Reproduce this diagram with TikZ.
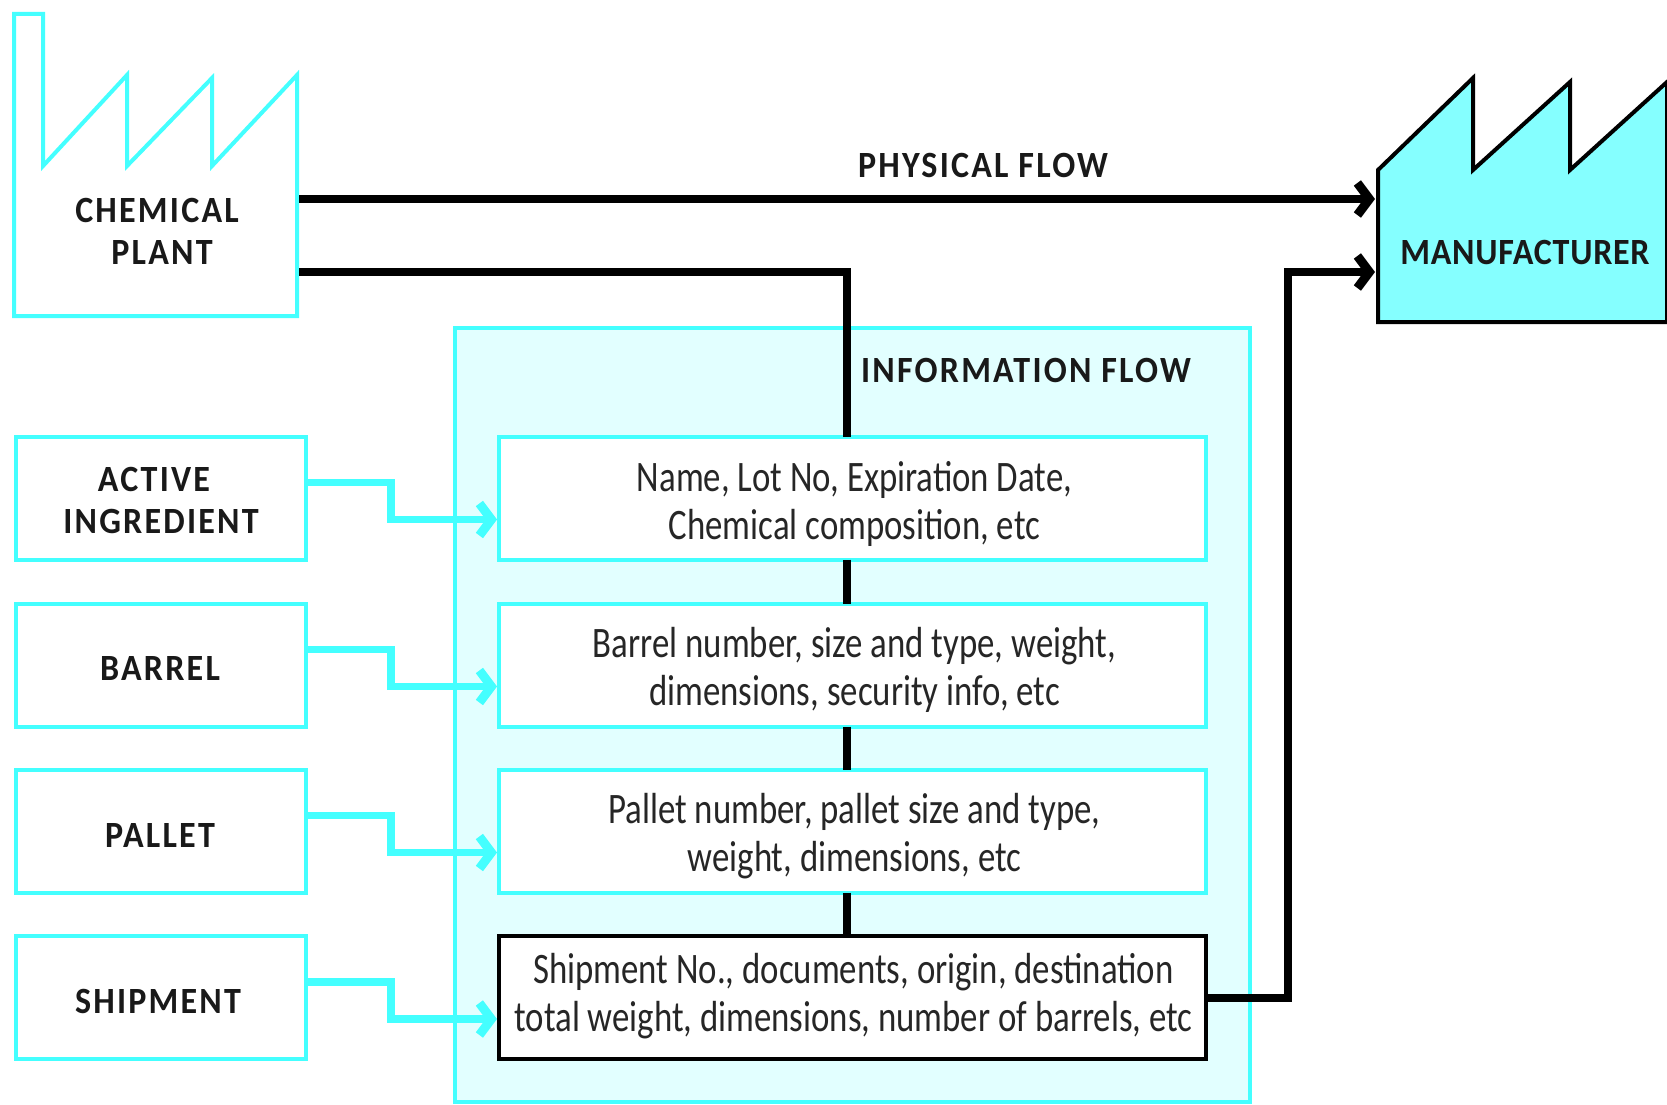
\documentclass[tikz,border=0pt]{standalone}
\usepackage{fontspec}
\usetikzlibrary{arrows.meta}
\setmainfont{Carlito}
\newfontfamily\lblfont[FakeStretch=0.92,LetterSpace=6]{Carlito Bold}
\newfontfamily\mfrfont[FakeStretch=0.92,LetterSpace=2]{Carlito Bold}
\newfontfamily\descfont[FakeStretch=0.80]{Carlito}
\definecolor{cy}{HTML}{44FFFF}
\definecolor{mfg}{HTML}{85FFFF}
\definecolor{pale}{HTML}{E2FFFF}
% \movedown{x}{dy}{content}: content shifted right by x/2 and down by dy inside its node
\newcommand\movedown[3]{\hspace*{#1pt}\raisebox{0pt}[\dimexpr\height+2\dimexpr #2pt\relax\relax][\depth]{#3}}
\newcommand\twolines[4]{\movedown{#1}{#2}{\begin{tabular}{@{}c@{}}#3\\#4\end{tabular}}}
\tikzset{
  x=1pt,y=-1pt,
  lbl/.style={font=\lblfont\fontsize{37}{42}\selectfont,text=black!90,align=center,inner sep=0pt,outer sep=0pt},
  desc/.style={font=\descfont\fontsize{43.5}{48}\selectfont,text=black!85,align=center,inner sep=0pt,outer sep=0pt},
  srcbox/.style={lbl,draw=cy,line width=4pt,fill=white,minimum width=290pt,minimum height=123pt},
  infobox/.style={desc,draw=cy,line width=4pt,fill=white,minimum width=707pt,minimum height=123pt},
  lastbox/.style={infobox,draw=black},
  tip/.tip={Straight Barb[length=12pt,width=32pt,line width=9pt]},
  blk/.style={draw=black,line width=8pt},
  cyl/.style={draw=cy,line width=7.5pt},
}
\begin{document}
\begin{tikzpicture}
\useasboundingbox (0,0) rectangle (1667,1105);
\fill[white] (0,0) rectangle (1667,1105);
% information flow panel
\draw[draw=cy,fill=pale,line width=4pt] (455,328) rectangle (1250,1102);
% factory outlines
\draw[draw=cy,line width=4pt,miter limit=10] (14,14) -- (43,14) -- (43,166) -- (127,75) -- (127,166) -- (212,78) -- (212,166) -- (297,75) -- (297,316) -- (14,316) -- cycle;
\begin{scope}
\clip (0,0) rectangle (1667,1105);
\draw[draw=black,fill=mfg,line width=4pt,miter limit=10] (1378,170) -- (1473,78) -- (1473,170) -- (1570,82) -- (1570,170) -- (1667,82) -- (1667,322) -- (1378,322) -- cycle;
\end{scope}
% nodes
\node[lbl] (chem) at (157,231.5) {CHEMICAL\\\hspace*{10pt}PLANT};
\node[lbl,font=\mfrfont\fontsize{37}{42}\selectfont] (mfr) at (1525,253) {MANUFACTURER};
\node[lbl] (phys) at (983,165) {PHYSICAL FLOW};
\node[lbl] (info) at (1026,370) {INFORMATION FLOW};
\coordinate (plantA) at (299,199);
\coordinate (plantB) at (299,272);
\coordinate (mfrA) at (1375,199);
\coordinate (mfrB) at (1375,272);
\coordinate (turnB) at (847,272);
\coordinate (rise) at (1288,272);
\node[infobox] (d1) at (852.5,498) {\twolines{4}{7.5}{Name, Lot No, Expiration Date,}{Chemical composition, etc}};
\node[infobox] (d2) at (852.5,665) {\twolines{4}{6.5}{Barrel number, size and type, weight,}{dimensions, security info, etc}};
\node[infobox] (d3) at (852.5,831) {\twolines{4}{6.5}{Pallet number, pallet size and type,}{weight, dimensions, etc}};
\node[lastbox] (d4) at (852.5,997.5) {\twolines{2}{0}{Shipment No., documents, origin, destination}{total weight, dimensions, number of barrels, etc}};
\node[srcbox] (s1) at (161,498) {\twolines{0}{6.4}{\hspace*{-14pt}ACTIVE}{INGREDIENT}};
\node[srcbox] (s2) at (161,665) {\movedown{-2}{3.5}{BARREL}};
\node[srcbox] (s3) at (161,831) {\movedown{-2}{4}{PALLET}};
\node[srcbox] (s4) at (161,997.5) {\movedown{-6}{4}{SHIPMENT}};
% black connectors
\draw[blk,-{tip}] (plantA) -- (mfrA);
\draw[blk] (plantB) -- (turnB) -- (d1.north -| turnB);
\draw[blk] (d1.south -| turnB) -- (d2.north -| turnB);
\draw[blk] (d2.south -| turnB) -- (d3.north -| turnB);
\draw[blk] (d3.south -| turnB) -- (d4.north -| turnB);
\draw[blk,-{tip}] (d4.east) -| (rise) -- (mfrB);
% source connectors
\coordinate (knee) at (391,0);
\foreach \s/\d in {s1/d1,s2/d2,s3/d3,s4/d4}{
  \coordinate (from) at ([yshift=15.5pt]\s.east);
  \coordinate (to) at ([xshift=-2pt,yshift=-21.5pt]\d.west);
  \draw[cyl,-{tip}] (from) -| (knee |- to) -- (to);
}
\end{tikzpicture}
\end{document}
